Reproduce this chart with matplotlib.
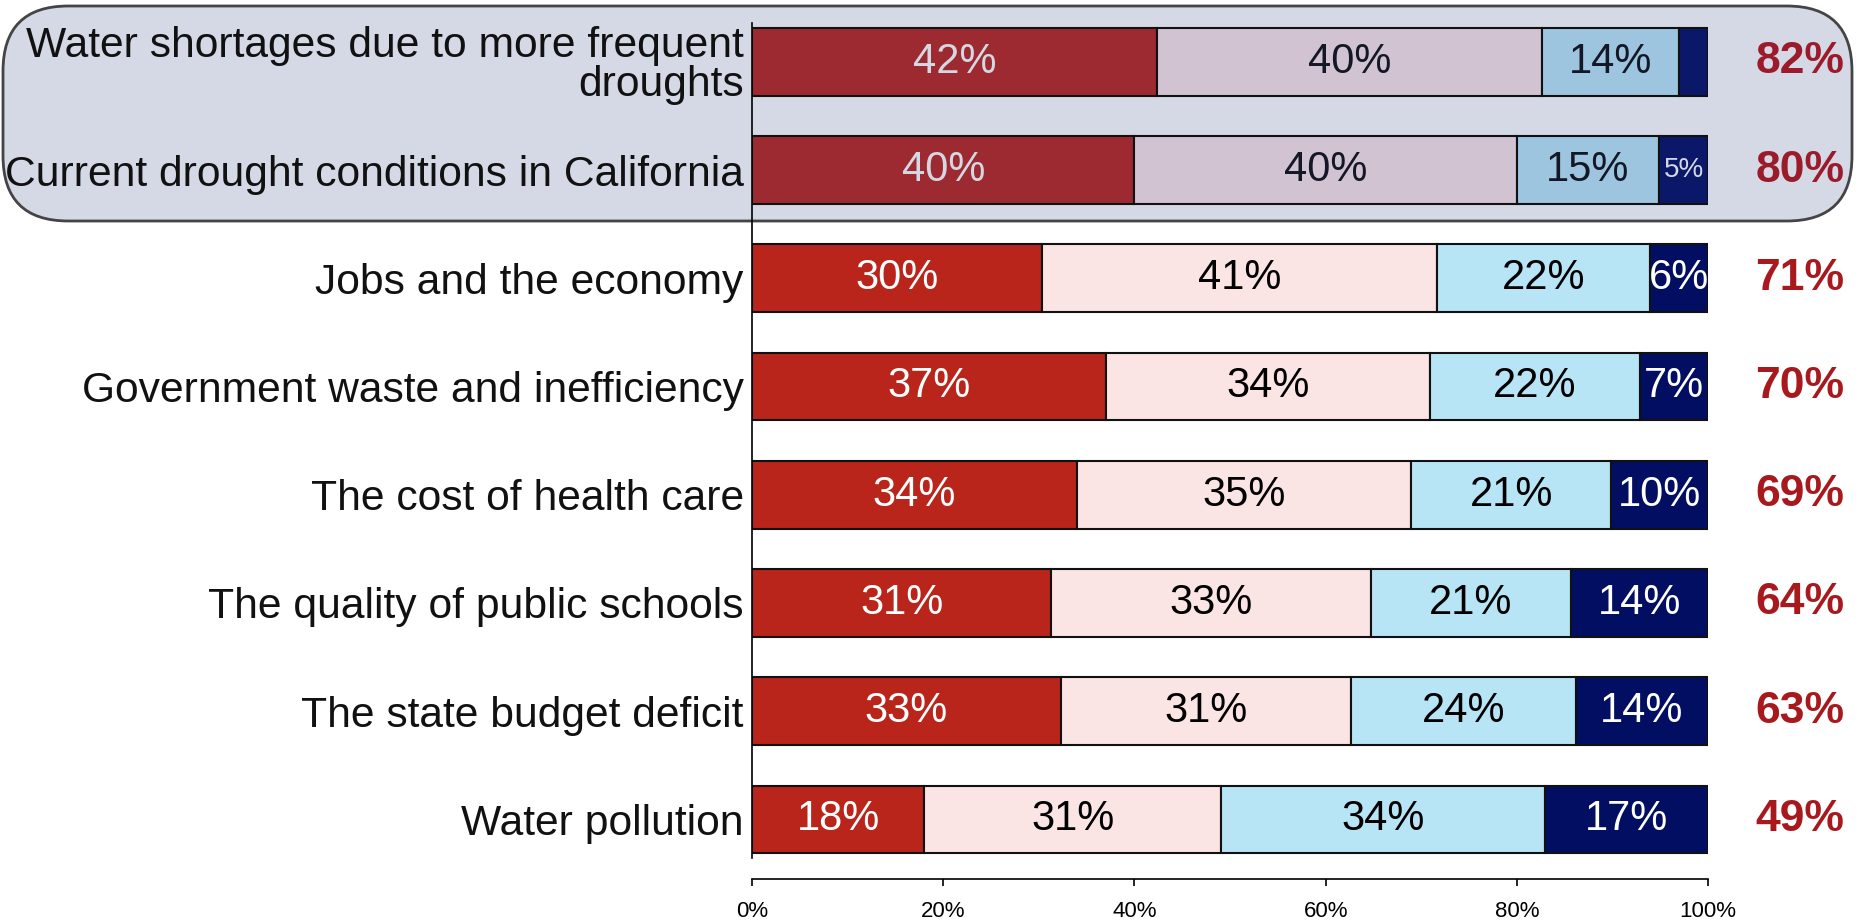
import numpy as np
import matplotlib
matplotlib.use("Agg")
import matplotlib.pyplot as plt
from matplotlib.patches import FancyBboxPatch

plt.rcParams['font.family'] = ['Liberation Sans', 'DejaVu Sans']

categories = ["Water shortages due to more frequent\ndroughts",
              "Current drought conditions in California",
              "Jobs and the economy",
              "Government waste and inefficiency",
              "The cost of health care",
              "The quality of public schools",
              "The state budget deficit",
              "Water pollution"]

# bar widths (each row sums to 100)
very = [42.4, 40.0, 30.3, 37.0, 34.0, 31.3, 32.3, 18.0]
somewhat = [40.2, 40.0, 41.4, 33.9, 34.9, 33.4, 30.4, 31.1]
not_too = [14.4, 14.9, 22.2, 22.0, 21.0, 21.0, 23.5, 33.8]
not_at_all = [3.0, 5.1, 6.1, 7.1, 10.1, 14.3, 13.8, 17.1]

very_lbl = ["42%", "40%", "30%", "37%", "34%", "31%", "33%", "18%"]
somewhat_lbl = ["40%", "40%", "41%", "34%", "35%", "33%", "31%", "31%"]
not_too_lbl = ["14%", "15%", "22%", "22%", "21%", "21%", "24%", "34%"]
not_at_all_lbl = ["", "5%", "6%", "7%", "10%", "14%", "14%", "17%"]
totals = ["82%", "80%", "71%", "70%", "69%", "64%", "63%", "49%"]

n_highlight = 2

# normal rows / highlighted (boxed) rows
seg_colors = ['#b9251a', '#fbe4e4', '#b8e5f6', '#020e62']
seg_colors_hl = ['#9c2a30', '#d1c3d1', '#9dc5df', '#0b1869']
txt_colors = ['white', 'black', 'black', 'white']
txt_colors_hl = ['#d4d8e3', '#141826', '#141826', '#d4d8e3']
total_color = '#a8191e'
total_color_hl = '#9b1b2b'

fig = plt.figure(figsize=(18.62, 9.23), dpi=100)

# rounded highlight box behind the first two rows
box = FancyBboxPatch((3 / 1862, 1 - 221 / 923), 1849 / 1862, 215 / 923,
                     boxstyle="round,pad=0,rounding_size=0.035",
                     transform=fig.transFigure, facecolor='#d4d9e5',
                     edgecolor='#444444', linewidth=2, zorder=-1,
                     mutation_aspect=1862 / 923)
fig.patches.append(box)

ax = fig.add_axes([0.4039, 0.070, 0.9173 - 0.4039, 0.9753 - 0.070])
ax.patch.set_visible(False)
ax.set_zorder(1)

for s in ['top', 'right']:
    ax.spines[s].set_visible(False)
ax.spines['left'].set_linewidth(1.2)
ax.spines['bottom'].set_linewidth(1.2)
ax.spines['bottom'].set_position(('outward', 14.7))

y = np.arange(len(categories))
segments = [very, somewhat, not_too, not_at_all]
labels = [very_lbl, somewhat_lbl, not_too_lbl, not_at_all_lbl]

left = np.zeros(len(categories))
for k, (vals, lbls) in enumerate(zip(segments, labels)):
    vals = np.array(vals)
    cols = [seg_colors_hl[k] if i < n_highlight else seg_colors[k] for i in range(len(y))]
    ax.barh(y, vals, left=left, height=0.625, color=cols,
            edgecolor='#111111', linewidth=1.5, zorder=2)
    for i in range(len(y)):
        if lbls[i] == "":
            continue
        tc = txt_colors_hl[k] if i < n_highlight else txt_colors[k]
        fs = 20 if (i < n_highlight and k == 3) else 30
        ax.text(left[i] + vals[i] / 2, y[i], lbls[i], ha='center', va='center',
                color=tc, fontsize=fs, zorder=3)
    left += vals

for i in range(len(y)):
    c = total_color_hl if i < n_highlight else total_color
    ax.text(109.6, y[i], totals[i], ha='center', va='center', color=c,
            fontsize=32, fontweight='bold', clip_on=False)

ax.set_xlim(0, 100)
ax.set_ylim(len(categories) - 1 + 0.36, -0.36)
ax.set_yticks(y)
ax.set_yticklabels(categories, fontsize=30.7, color='#111111', linespacing=0.95)
ax.tick_params(axis='y', length=0, pad=6)
ax.set_xticks([0, 20, 40, 60, 80, 100])
ax.set_xticklabels(["0%", "20%", "40%", "60%", "80%", "100%"], fontsize=16)
ax.tick_params(axis='x', direction='out', length=5, width=1.2, pad=11)

fig.savefig("out.png", dpi=100)
